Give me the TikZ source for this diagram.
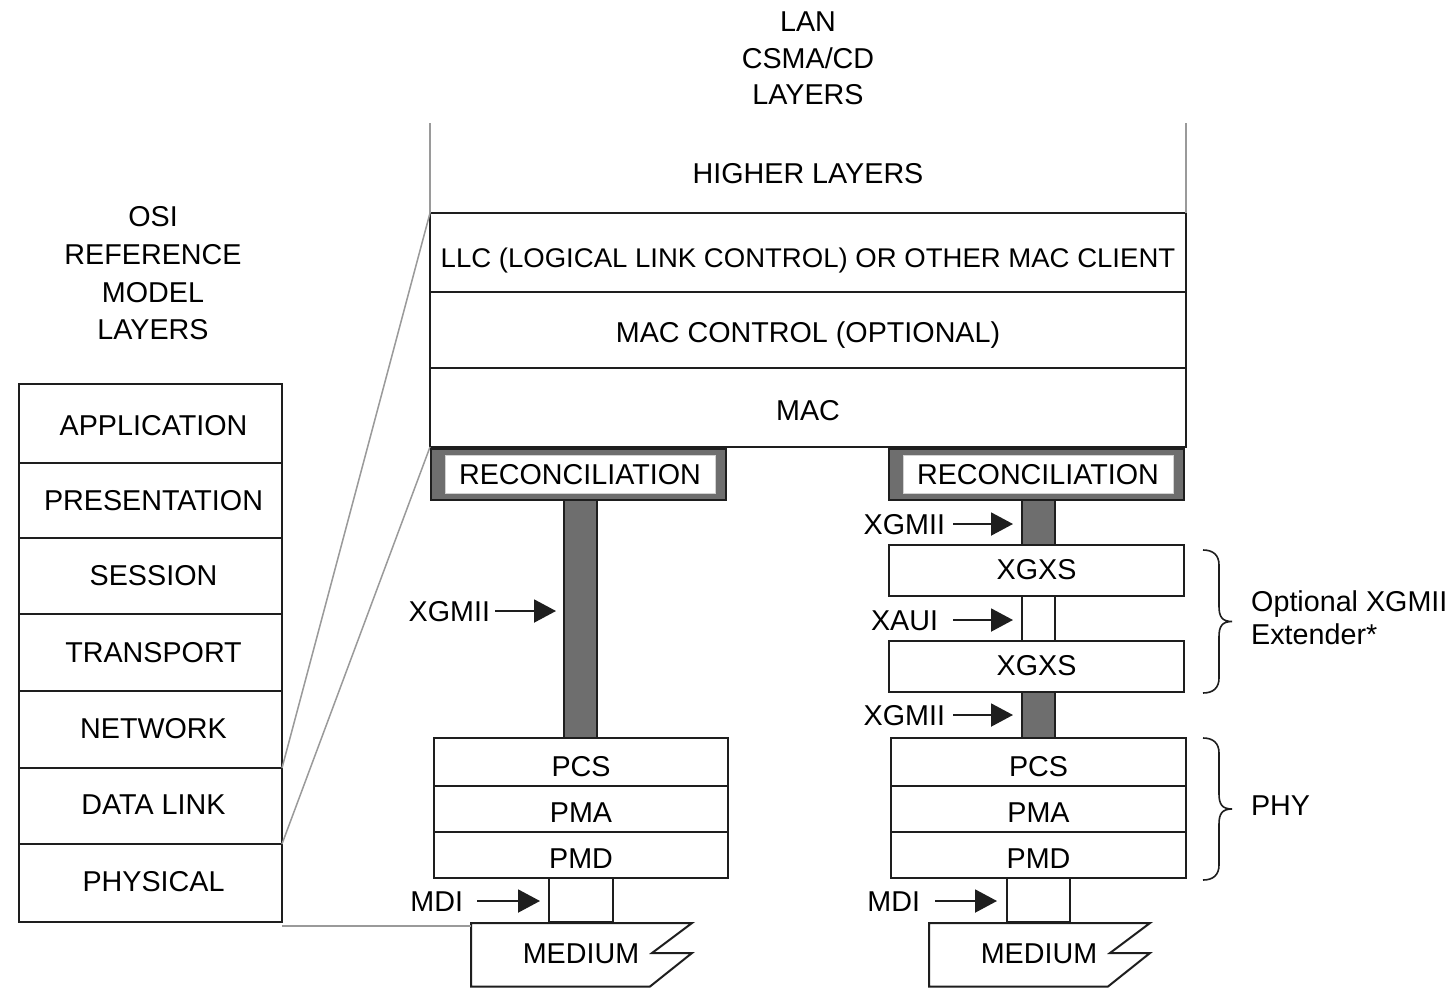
\documentclass[tikz,border=0pt]{standalone}
\usepackage{fontspec}
\setmainfont{Liberation Sans}
\usetikzlibrary{arrows.meta}
\definecolor{linec}{HTML}{1E1E1E}
\definecolor{barc}{HTML}{6E6E6E}
\definecolor{grayl}{HTML}{9A9A9A}
\newcommand\lblf{\fontsize{28.7}{36}\selectfont}
\newcommand\dn[2]{\raisebox{-#1pt}{#2}}
\newcommand\rs[1]{\hspace*{6pt}#1}
\begin{document}
\begin{tikzpicture}[x=1pt,y=-1pt,
 box/.style={draw=linec, line width=2pt, fill=white, inner sep=0pt, outer sep=0pt, font=\lblf, text=black, text height=20.5pt, text depth=0pt},
 lbl/.style={inner sep=0pt, outer sep=0pt, font=\lblf, text=black, text height=20.5pt, text depth=0pt},
 title/.style={inner sep=0pt, text=black, align=center},
 persp/.style={draw=grayl, line width=1.5pt},
 arr/.style={draw=linec, line width=2pt, -{Triangle[length=22pt,width=23pt]}},
 darkbar/.style={draw=linec, line width=2pt, fill=barc, inner sep=0pt, outer sep=0pt},
 medium/.style={draw=linec, line width=2pt, fill=white, line join=miter},
 brc/.style={draw=linec, line width=1.6pt},
]
\useasboundingbox (0,0) rectangle (1455,988);
\fill[white] (0,0) rectangle (1455,988);

% titles
\node[title, font=\fontsize{28.7}{36.5}\selectfont] (lan) at (808,58.5) {LAN\\CSMA/CD\\LAYERS};
\node[title, font=\fontsize{28.7}{37.7}\selectfont] (osi) at (153,273.5) {OSI\\REFERENCE\\MODEL\\LAYERS};
\node[lbl] (higher) at (808,173) {HIGHER LAYERS};

% OSI stack
\node[box, minimum width=263pt, minimum height=79pt] (app) at (150.5,423.5) {\rs{\dn{2}{APPLICATION}}};
\node[box, minimum width=263pt, minimum height=75pt] (pres) at (150.5,500.5) {\rs{PRESENTATION}};
\node[box, minimum width=263pt, minimum height=76pt] (sess) at (150.5,576) {\rs{\dn{-1}{SESSION}}};
\node[box, minimum width=263pt, minimum height=77pt] (trans) at (150.5,652.5) {\rs{TRANSPORT}};
\node[box, minimum width=263pt, minimum height=77pt] (net) at (150.5,729.5) {\rs{\dn{-1}{NETWORK}}};
\node[box, minimum width=263pt, minimum height=76pt] (dl) at (150.5,806) {\rs{\dn{-2}{DATA LINK}}};
\node[box, minimum width=263pt, minimum height=78pt] (phys) at (150.5,883) {\rs{\dn{-2}{PHYSICAL}}};

% LAN upper stack
\coordinate (hl1) at (430,123);
\coordinate (hl2) at (1186,123);
\node[box, minimum width=756pt, minimum height=79pt, font=\fontsize{27}{32}\selectfont] (llc) at (808,252.5) {\dn{5}{\scalebox{1.02}[1]{LLC (LOGICAL LINK CONTROL) OR OTHER MAC CLIENT}}};
\node[box, minimum width=756pt, minimum height=76pt] (macc) at (808,330) {\dn{2}{MAC CONTROL (OPTIONAL)}};
\node[box, minimum width=756pt, minimum height=79pt] (mac) at (808,407.5) {\dn{3}{MAC}};
\draw[persp] (hl1) -- (llc.north west);
\draw[persp] (hl2) -- (llc.north east);

% medium shapes
\draw[medium] (471,923) -- (692,923) -- (652,953) -- (692,953) -- (650,986.5) -- (471,986.5) -- cycle;
\draw[medium] (929,923) -- (1150,923) -- (1110,953) -- (1150,953) -- (1108,986.5) -- (929,986.5) -- cycle;
\coordinate (ml1) at (471,923);
\node[lbl] (medl) at (581,953) {MEDIUM};
\node[lbl] (medr) at (1039,953) {MEDIUM};

% perspective lines
\coordinate (physx) at ([yshift=-4pt]phys.south east);
\draw[persp] (dl.north east) -- (llc.north west);
\draw[persp] (dl.south east) -- (mac.south west);
\draw[persp] (physx) -- (physx -| ml1);

% left column
\node[darkbar, minimum width=33pt, minimum height=238pt] (barl) at (580.5,619) {};
\node[darkbar, minimum width=295pt, minimum height=51pt] (recl) at (578.5,474.5) {};
\node[box, draw=gray!35, line width=0.8pt, minimum width=270pt, minimum height=38pt] (recli) at (580,474) {RECONCILIATION};
\node[box, minimum width=294pt, minimum height=48pt] (pcsl) at (581,762) {\dn{4}{PCS}};
\node[box, minimum width=294pt, minimum height=46pt] (pmal) at (581,809) {\dn{3}{PMA}};
\node[box, minimum width=294pt, minimum height=46pt] (pmdl) at (581,855) {\dn{3}{PMD}};
\node[box, minimum width=64pt, minimum height=44pt] (mdil) at (581,900) {};

% right column
\node[darkbar, minimum width=33pt, minimum height=45pt] (bart) at (1038.5,522.5) {};
\node[darkbar, minimum width=33pt, minimum height=46pt] (barb) at (1038.5,715) {};
\node[darkbar, minimum width=295pt, minimum height=51pt] (recr) at (1036.5,474.5) {};
\node[box, draw=gray!35, line width=0.8pt, minimum width=270pt, minimum height=38pt] (recri) at (1038,474) {RECONCILIATION};
\node[box, minimum width=295pt, minimum height=51pt] (xgxs1) at (1036.5,570.5) {\dn{-1.5}{XGXS}};
\node[box, minimum width=33pt, minimum height=45pt] (xaui) at (1038.5,618.5) {};
\node[box, minimum width=295pt, minimum height=51pt] (xgxs2) at (1036.5,666.5) {\dn{-1.5}{XGXS}};
\node[box, minimum width=295pt, minimum height=48pt] (pcsr) at (1038.5,762) {\dn{4}{PCS}};
\node[box, minimum width=295pt, minimum height=46pt] (pmar) at (1038.5,809) {\dn{3}{PMA}};
\node[box, minimum width=295pt, minimum height=46pt] (pmdr) at (1038.5,855) {\dn{3}{PMD}};
\node[box, minimum width=63pt, minimum height=44pt] (mdir) at (1038.5,900) {};

% arrow labels
\node[lbl, anchor=east] (xgl) at (490,611) {XGMII};
\node[lbl, anchor=east] (xgr1) at (945,524) {XGMII};
\node[lbl, anchor=east] (xauil) at (938,620) {XAUI};
\node[lbl, anchor=east] (xgr2) at (945,715) {XGMII};
\node[lbl, anchor=east] (mdill) at (463,901) {MDI};
\node[lbl, anchor=east] (mdirl) at (920,901) {MDI};

\draw[arr, shorten <=5pt, shorten >=8pt] (xgl.east) -- (xgl.east -| barl.west);
\draw[arr, shorten <=8pt, shorten >=9pt] (xgr1.east) -- (xgr1.east -| bart.west);
\draw[arr, shorten <=15pt, shorten >=9pt] (xauil.east) -- (xauil.east -| xaui.west);
\draw[arr, shorten <=8pt, shorten >=9pt] (xgr2.east) -- (xgr2.east -| barb.west);
\draw[arr, shorten <=14pt, shorten >=9pt] (mdill.east) -- (mdill.east -| mdil.west);
\draw[arr, shorten <=15pt, shorten >=10pt] (mdirl.east) -- (mdirl.east -| mdir.west);

% braces
\draw[brc] (1203,550) .. controls (1213,550) and (1219,555) .. (1219,565) -- (1219,606.5) .. controls (1219,616.5) and (1222,621.5) .. (1232,621.5) .. controls (1222,621.5) and (1219,626.5) .. (1219,636.5) -- (1219,678) .. controls (1219,688) and (1213,693) .. (1203,693);
\draw[brc] (1203,738) .. controls (1213,738) and (1219,743) .. (1219,753) -- (1219,794) .. controls (1219,804) and (1222,809) .. (1232,809) .. controls (1222,809) and (1219,814) .. (1219,824) -- (1219,865) .. controls (1219,875) and (1213,880) .. (1203,880);
\node[title, anchor=west, align=left, font=\fontsize{28.7}{33}\selectfont] (ext) at (1251,617.5) {Optional XGMII\\Extender*};
\node[lbl, anchor=west] (phy) at (1251,805) {PHY};
\end{tikzpicture}
\end{document}
